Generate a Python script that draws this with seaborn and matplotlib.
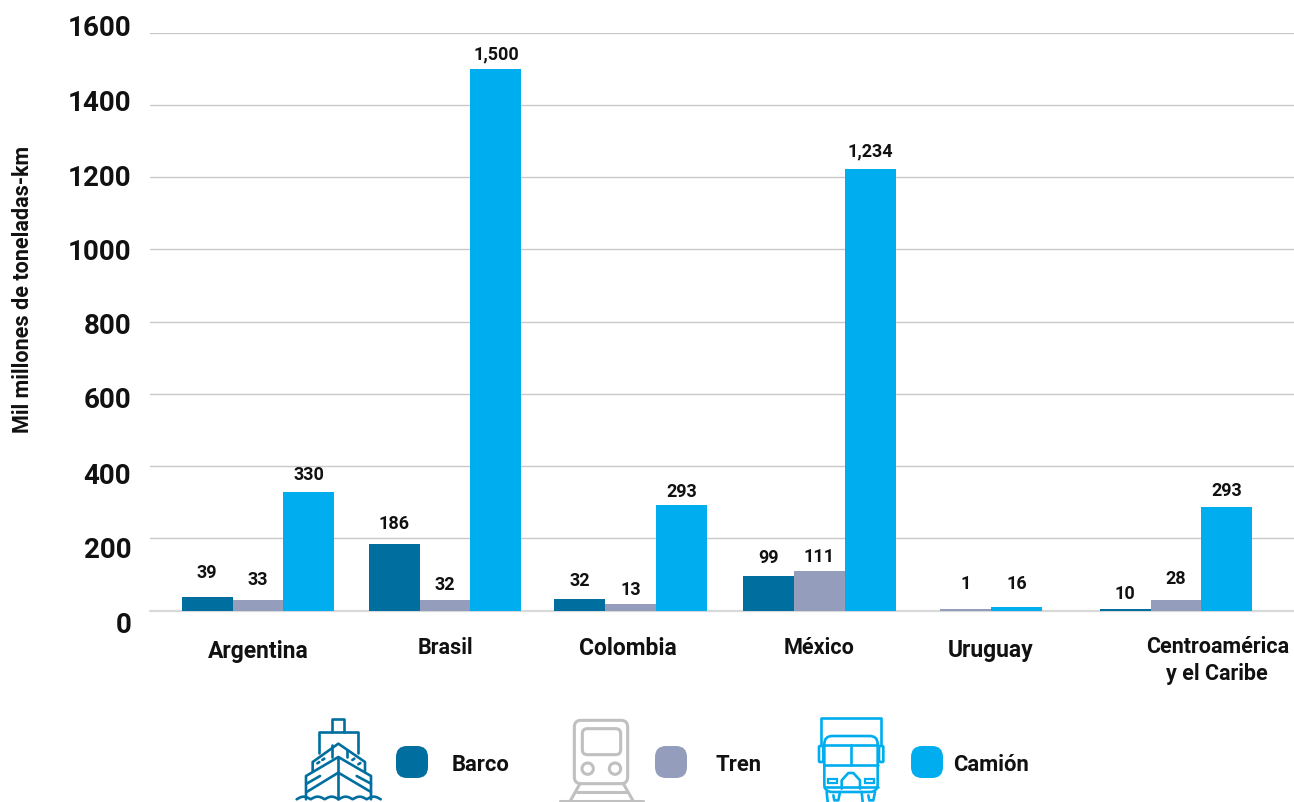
import numpy as np
import pandas as pd
import matplotlib
matplotlib.use("Agg")
import matplotlib.pyplot as plt
from matplotlib.patches import FancyBboxPatch, Circle, Rectangle
from matplotlib.transforms import ScaledTranslation
import seaborn as sns

# Data
countries = ["Argentina", "Brasil", "Colombia", "México", "Uruguay", "Centroamérica\ny el Caribe"]
modes = ["Barco", "Tren", "Camión"]
barco = [39, 183, 33, 97, 0, 5]
tren = [28, 28, 17, 111, 5, 28]
camion = [329, 1500, 293, 1223, 11, 288]
barco_labels = ["39", "186", "32", "99", "", "10"]
tren_labels = ["33", "32", "13", "111", "1", "28"]
camion_labels = ["330", "1,500", "293", "1,234", "16", "293"]
y_ticks = [0, 200, 400, 600, 800, 1000, 1200, 1400, 1600]

# Layout: the groups are not evenly spaced in the original
group_slots = [0, 1, 1.992, 3.003, 3.783, 4.909]
label_slots = [0, 1, 1.98, 3.003, 3.92, 5.13]
label_y_px = [651, 647, 648, 647, 650, 660]
label_sizes = [16.5, 15.5, 16.5, 15.6, 16.5, 15.5]
label_gaps = [[25, 21, 19, 19, 0, 16], [21, 16, 15, 15, 26, 22], [18, 15, 14, 18, 24, 17]]
tick_y_px = [622, 547, 473, 397, 323, 249, 175, 100, 25]

BARCO = "#006f9f"
TREN = "#959dbd"
CAMION = "#00aeef"
TEXT = "#111111"

sns.set_theme(style="white")
plt.rcParams["font.family"] = ["Roboto", "DejaVu Sans"]

df = pd.DataFrame({
    "slot": group_slots * 3,
    "modo": np.repeat(modes, len(countries)),
    "valor": barco + tren + camion,
})

fig = plt.figure(figsize=(12.94, 8.03), dpi=100, facecolor="white")
ax = fig.add_axes([150 / 1294, (803 - 611.6) / 803, 1144 / 1294, 578 / 803])

sns.barplot(
    data=df, x="slot", y="valor", hue="modo", hue_order=modes,
    palette=[BARCO, TREN, CAMION], native_scale=True, width=153 / 146,
    gap=0, saturation=1, legend=False, linewidth=0, ax=ax,
)

ax.set_xlim((150 - 258) / 187, (1294 - 258) / 187)
ax.set_ylim(0, 1600)
ax.set_xlabel("")
ax.set_ylabel("")
sns.despine(ax=ax, left=True, bottom=True)
ax.set_axisbelow(True)
ax.yaxis.grid(True, color="#c9c9c9", lw=1)
ax.axhline(0, color="#d9d9d9", lw=1.6, zorder=0.6, clip_on=False)

# Value labels
all_labels = [barco_labels, tren_labels, camion_labels]
for cont, labels, gaps in zip(ax.containers, all_labels, label_gaps):
    for rect, lab, gap in zip(cont, labels, gaps):
        if lab:
            ax.annotate(lab, (rect.get_x() + rect.get_width() / 2, rect.get_height()),
                        xytext=(0, gap * 0.72), textcoords="offset points",
                        ha="center", va="center", fontsize=13, fontweight="bold", color=TEXT)

# Axis labels, moved off the grid lines as in the original
ax.set_yticks(y_ticks)
ax.set_yticklabels([str(v) for v in y_ticks], fontsize=20, fontweight="bold", color=TEXT)
ax.tick_params(axis="y", length=0, pad=13.5)
for lab, v, py in zip(ax.get_yticklabels(), y_ticks, tick_y_px):
    grid_px = 611 - v * 578 / 1600
    lab.set_transform(lab.get_transform() + ScaledTranslation(0, (grid_px - py) / 100, fig.dpi_scale_trans))

ax.set_xticks(label_slots)
ax.set_xticklabels(countries, fontweight="bold", color=TEXT, va="center", linespacing=1.25)
ax.tick_params(axis="x", length=0, pad=0)
for lab, py, size in zip(ax.get_xticklabels(), label_y_px, label_sizes):
    lab.set_fontsize(size)
    lab.set_transform(lab.get_transform() + ScaledTranslation(0, (611 - py) / 100, fig.dpi_scale_trans))

# Overlay in pixel coordinates for the y title and the legend with its icons
ov = fig.add_axes([0, 0, 1, 1], facecolor="none")
ov.set_xlim(0, 1294)
ov.set_ylim(803, 0)
ov.axis("off")

ov.text(23, 289, "Mil millones de toneladas-km", rotation=90, ha="center", va="center",
        fontsize=15.5, fontweight="bold", color=TEXT)

for x0, col in zip([396, 655, 911], [BARCO, TREN, CAMION]):
    ov.add_patch(FancyBboxPatch((x0 + 11, 758), 10, 10, boxstyle="round,pad=11,rounding_size=11",
                                fc=col, ec="none", mutation_aspect=1))
for x, name in zip([452, 716, 953], modes):
    ov.text(x, 765, name, ha="left", va="center", fontsize=15.8, fontweight="bold", color=TEXT)


def icon_line(x0, y0, pts, col, lw=1.9):
    xs = [x0 + p[0] / 3 for p in pts]
    ys = [y0 + p[1] / 3 for p in pts]
    ov.plot(xs, ys, color=col, lw=lw, solid_joinstyle="round", solid_capstyle="round", clip_on=True)


def icon_round(x0, y0, box, r, col, lw=1.9):
    a, b, c, d = box
    ov.add_patch(FancyBboxPatch((x0 + (a + r) / 3, y0 + (b + r) / 3), (c - a - 2 * r) / 3, (d - b - 2 * r) / 3,
                                boxstyle=f"round,pad={r / 3},rounding_size={r / 3}", fc="none", ec=col, lw=lw))


# Ship
sx, sy = 290, 713
icon_line(sx, sy, [(125, 60), (125, 22), (163, 22), (163, 60)], BARCO)
icon_line(sx, sy, [(88, 122), (88, 60), (205, 60), (205, 122)], BARCO)
icon_line(sx, sy, [(68, 178), (68, 150), (145, 95), (225, 150), (225, 178)], BARCO)
icon_line(sx, sy, [(48, 262), (48, 192), (145, 135), (243, 192), (243, 262)], BARCO)
icon_line(sx, sy, [(145, 135), (145, 262)], BARCO)
icon_line(sx, sy, [(125, 100), (125, 135)], BARCO)
icon_line(sx, sy, [(170, 115), (170, 135)], BARCO)
icon_line(sx, sy, [(50, 215), (90, 192)], BARCO)
icon_line(sx, sy, [(50, 240), (145, 182), (243, 240)], BARCO)
icon_line(sx, sy, [(200, 192), (243, 215)], BARCO)
for wx, wy in [(85, 152), (100, 142), (190, 142), (208, 155)]:
    icon_line(sx, sy, [(wx - 3, wy + 2), (wx + 3, wy - 2)], BARCO)
wave_x = np.linspace(20, 272, 120)
icon_line(sx, sy, list(zip(wave_x, 262 - 8 * np.abs(np.sin((wave_x - 20) * np.pi / 42)))), BARCO)

# Train
tx, ty = 555, 713
GRIS = "#c0c0c0"
icon_round(tx, ty, (58, 25, 218, 215), 20, GRIS, 2.2)
icon_round(tx, ty, (82, 50, 197, 128), 15, GRIS, 2.2)
for cx in (98, 180):
    ov.add_patch(Circle((tx + cx / 3, ty + 170 / 3), 17 / 3, fc="none", ec=GRIS, lw=2.2))
icon_line(tx, ty, [(75, 215), (45, 268)], GRIS, 2.2)
icon_line(tx, ty, [(205, 215), (235, 268)], GRIS, 2.2)
icon_line(tx, ty, [(65, 240), (215, 240)], GRIS, 2.2)
icon_line(tx, ty, [(15, 267), (265, 267)], GRIS, 2.2)

# Truck
kx, ky = 805, 713
icon_line(kx, ky, [(48, 100), (48, 17), (228, 17), (228, 100)], CAMION)
icon_round(kx, ky, (58, 72, 218, 240), 24, CAMION)
icon_line(kx, ky, [(58, 98), (218, 98)], CAMION)
icon_line(kx, ky, [(58, 160), (218, 160)], CAMION)
icon_line(kx, ky, [(137, 98), (137, 160)], CAMION)
icon_round(kx, ky, (42, 102, 55, 150), 3, CAMION)
icon_round(kx, ky, (222, 102, 235, 150), 3, CAMION)
icon_line(kx, ky, [(110, 230), (110, 205), (130, 183), (145, 183), (165, 205), (165, 230)], CAMION)
ov.add_patch(Rectangle((kx + 68 / 3, ky + 200 / 3), 27 / 3, 13 / 3, fc="none", ec=CAMION, lw=1.6))
ov.add_patch(Rectangle((kx + 180 / 3, ky + 200 / 3), 27 / 3, 13 / 3, fc="none", ec=CAMION, lw=1.6))
icon_line(kx, ky, [(58, 226), (218, 226)], CAMION)
for a, b in [(65, 105), (170, 210)]:
    icon_line(kx, ky, [(a, 240), (a + 3, 270)], CAMION)
    icon_line(kx, ky, [(b, 240), (b - 5, 265), (b - 17, 265), (b - 20, 250)], CAMION)

fig.savefig("out.png", dpi=100)
